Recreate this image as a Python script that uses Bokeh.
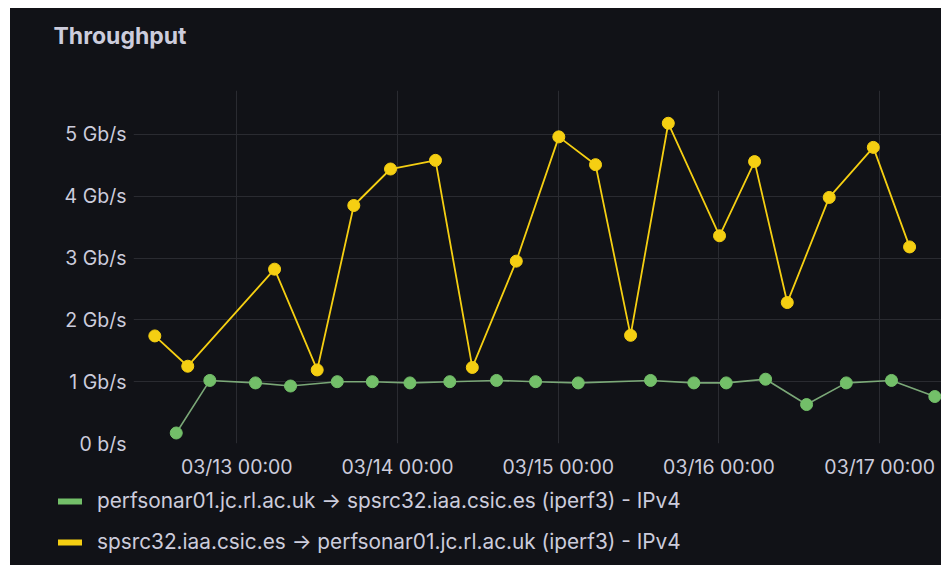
import pandas as pd
from bokeh.plotting import figure
from bokeh.layouts import column
from bokeh.models import (ColumnDataSource, FixedTicker, DatetimeTickFormatter,
                          Legend, LegendItem, Range1d, Label)
from bokeh.embed import file_html
from bokeh.resources import INLINE

# ---- data ----
green_times = ["2024-03-12 14:57", "2024-03-12 19:58", "2024-03-13 02:47", "2024-03-13 08:01",
               "2024-03-13 15:00", "2024-03-13 20:14", "2024-03-14 01:51", "2024-03-14 07:48",
               "2024-03-14 14:47", "2024-03-14 20:37", "2024-03-15 02:59", "2024-03-15 13:47",
               "2024-03-15 20:15", "2024-03-16 01:05", "2024-03-16 06:58", "2024-03-16 13:05",
               "2024-03-16 19:01", "2024-03-17 01:46", "2024-03-17 08:14"]
green_gbps = [0.17, 1.02, 0.98, 0.93, 1.00, 1.00, 0.98, 1.00, 1.02, 1.00, 0.98, 1.02,
              0.98, 0.98, 1.04, 0.63, 0.98, 1.02, 0.76]

yellow_times = ["2024-03-12 11:45", "2024-03-12 16:40", "2024-03-13 05:38", "2024-03-13 12:00",
                "2024-03-13 17:28", "2024-03-13 22:57", "2024-03-14 05:40", "2024-03-14 11:10",
                "2024-03-14 17:44", "2024-03-15 00:05", "2024-03-15 05:34", "2024-03-15 10:48",
                "2024-03-15 16:26", "2024-03-16 00:05", "2024-03-16 05:19", "2024-03-16 10:12",
                "2024-03-16 16:28", "2024-03-16 23:03", "2024-03-17 04:28"]
yellow_gbps = [1.74, 1.25, 2.82, 1.19, 3.85, 4.44, 4.58, 1.23, 2.95, 4.96, 4.51, 1.75,
               5.18, 3.36, 4.56, 2.28, 3.98, 4.79, 3.18]

title_text = "Throughput"
series_names = ["perfsonar01.jc.rl.ac.uk \u2192 spsrc32.iaa.csic.es (iperf3) - IPv4",
                "spsrc32.iaa.csic.es \u2192 perfsonar01.jc.rl.ac.uk (iperf3) - IPv4"]
x_tick_days = ["2024-03-13", "2024-03-14", "2024-03-15", "2024-03-16", "2024-03-17"]
y_ticks = [0, 1, 2, 3, 4, 5]
y_tick_labels = ["0 b/s", "1 Gb/s", "2 Gb/s", "3 Gb/s", "4 Gb/s", "5 Gb/s"]
x_start, x_end = "2024-03-12 08:34", "2024-03-17 09:14"
y_max = 5.71

# ---- styling ----
BG = "#111217"
TXT = "#ccccdc"
GRID = "#2a2b31"
GREEN = "#73BF69"
YELLOW = "#F5CF12"
FONT = "Inter"
W = 931
CSS_BG = {"background-color": BG}


def strip(height):
    f = figure(width=W, height=height, output_backend="svg", toolbar_location=None,
               title=None, x_axis_location=None, y_axis_location=None,
               x_range=Range1d(0, W), y_range=Range1d(height, 0),
               min_border_left=0, min_border_right=0, min_border_top=0, min_border_bottom=0,
               background_fill_color=None, border_fill_color=None, outline_line_color=None)
    f.grid.visible = False
    f.frame_align = False
    f.styles = CSS_BG
    return f


# ---- header with the panel title ----
head = strip(82)
head.add_layout(Label(x=43, y=27.5, text=title_text, text_font=FONT, text_font_size="23px",
                      text_font_style="bold", text_color=TXT, text_align="left",
                      text_baseline="middle"))

# ---- main chart ----
src_g = ColumnDataSource(dict(t=pd.to_datetime(green_times), v=green_gbps))
src_y = ColumnDataSource(dict(t=pd.to_datetime(yellow_times), v=yellow_gbps))

p = figure(width=W, height=395, output_backend="svg", toolbar_location=None,
           title=None, x_axis_type="datetime",
           x_range=Range1d(pd.Timestamp(x_start), pd.Timestamp(x_end)),
           y_range=Range1d(0, y_max),
           min_border_left=123, min_border_right=0, min_border_top=0, min_border_bottom=42,
           background_fill_color=None, border_fill_color=None, outline_line_color=None)
p.frame_align = False
p.styles = CSS_BG

p.line("t", "v", source=src_g, line_color="#86b882", line_width=1.6, line_alpha=0.9)
p.scatter("t", "v", source=src_g, size=12, fill_color=GREEN, line_color=GREEN)
p.line("t", "v", source=src_y, line_color=YELLOW, line_width=1.8)
p.scatter("t", "v", source=src_y, size=12, fill_color=YELLOW, line_color=YELLOW)

xt = [pd.Timestamp(d).value // 10**6 for d in x_tick_days]
p.xaxis.ticker = FixedTicker(ticks=xt)
p.xaxis.formatter = DatetimeTickFormatter(days="%m/%d %H:%M", months="%m/%d %H:%M",
                                          hours="%m/%d %H:%M")
p.yaxis.ticker = FixedTicker(ticks=y_ticks)
p.yaxis.major_label_overrides = {t: l for t, l in zip(y_ticks, y_tick_labels)}
for ax in (p.xaxis, p.yaxis):
    ax.axis_line_color = None
    ax.major_tick_line_color = None
    ax.minor_tick_line_color = None
    ax.major_tick_out = 0
    ax.major_tick_in = 0
    ax.minor_tick_out = 0
    ax.major_label_text_font = FONT
    ax.major_label_text_font_size = "19.5px"
    ax.major_label_text_color = TXT
p.xaxis.major_label_standoff = 11
p.yaxis.major_label_standoff = 7

p.xgrid.grid_line_color = GRID
p.ygrid.grid_line_color = GRID

# ---- legend strip ----
leg = strip(80)
lg = leg.line([-50, -40], [-50, -50], line_color=GREEN, line_width=6, line_cap="round")
ly = leg.line([-50, -40], [-50, -50], line_color=YELLOW, line_width=6, line_cap="round")
legend = Legend(items=[LegendItem(label=series_names[0], renderers=[lg]),
                       LegendItem(label=series_names[1], renderers=[ly])],
                location=(48, 11), orientation="vertical",
                label_text_font=FONT, label_text_font_size="20.8px", label_text_color=TXT,
                glyph_width=24, glyph_height=24, label_height=24, label_standoff=15,
                spacing=16, padding=0, margin=0,
                background_fill_alpha=0, border_line_alpha=0)
leg.add_layout(legend, "center")

layout = column(head, p, leg, spacing=0)
layout.margin = (8, 0, 0, 10)

open("out.html", "w").write(file_html(layout, INLINE))
